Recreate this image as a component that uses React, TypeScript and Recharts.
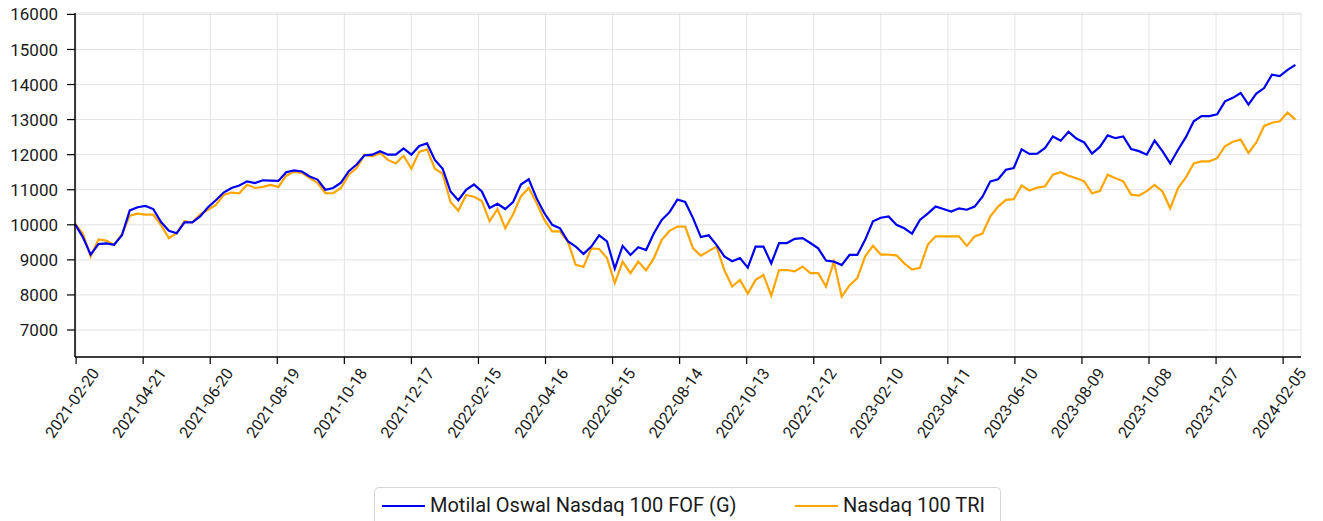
import { LineChart, Line, XAxis, YAxis, CartesianGrid } from 'recharts';

// weekly samples, first point on START
const START = '2021-02-19';
const STEP_DAYS = 7;
const END_DAY = 1097;

const TICK_LABELS = [
    '2021-02-20', '2021-04-21', '2021-06-20', '2021-08-19', '2021-10-18', '2021-12-17',
    '2022-02-15', '2022-04-16', '2022-06-15', '2022-08-14', '2022-10-13', '2022-12-12',
    '2023-02-10', '2023-04-11', '2023-06-10', '2023-08-09', '2023-10-08', '2023-12-07',
    '2024-02-05',
];

const Y_TICKS = [7000, 8000, 9000, 10000, 11000, 12000, 13000, 14000, 15000, 16000];

const FOF = [
    10020, 9650, 9150, 9450, 9470, 9430, 9700, 10410, 10500, 10540,
    10450, 10080, 9830, 9760, 10070, 10070, 10240, 10500, 10700, 10920,
    11050, 11120, 11240, 11190, 11270, 11260, 11250, 11500, 11550, 11520,
    11380, 11290, 11000, 11050, 11200, 11530, 11720, 11980, 12000, 12100,
    12000, 12000, 12180, 12000, 12250, 12320, 11850, 11600, 10950, 10700,
    11000, 11150, 10950, 10480, 10600, 10450, 10650, 11150, 11300, 10760,
    10330, 10000, 9900, 9530, 9380, 9170, 9380, 9700, 9530, 8750,
    9400, 9140, 9360, 9280, 9760, 10140, 10360, 10720, 10650, 10190,
    9650, 9700, 9430, 9100, 8960, 9050, 8780, 9380, 9380, 8900,
    9480, 9480, 9600, 9620, 9480, 9330, 8980, 8950, 8850, 9140,
    9140, 9570, 10100, 10200, 10240, 10000, 9900, 9750, 10140, 10320,
    10520, 10450, 10380, 10470, 10430, 10520, 10800, 11240, 11300, 11570,
    11620, 12150, 12020, 12030, 12190, 12520, 12400, 12650, 12460, 12350,
    12030, 12220, 12550, 12470, 12520, 12160, 12100, 12000, 12400, 12100,
    11750, 12140, 12500, 12950, 13100, 13100, 13150, 13520, 13620, 13760,
    13430, 13740, 13900, 14280, 14240, 14420, 14560,
];

const TRI = [
    10030, 9750, 9100, 9580, 9550, 9430, 9730, 10260, 10320, 10290,
    10290, 9990, 9620, 9760, 10100, 10070, 10300, 10430, 10570, 10850,
    10920, 10900, 11140, 11050, 11080, 11140, 11080, 11400, 11510, 11480,
    11330, 11200, 10900, 10900, 11050, 11430, 11620, 12000, 11950, 12050,
    11850, 11750, 11970, 11600, 12080, 12150, 11600, 11450, 10650, 10400,
    10850, 10800, 10680, 10100, 10450, 9900, 10300, 10810, 11050, 10620,
    10140, 9810, 9810, 9520, 8860, 8800, 9330, 9310, 9050, 8340,
    8950, 8620, 8950, 8700, 9050, 9570, 9830, 9950, 9950, 9330,
    9120, 9250, 9380, 8710, 8240, 8430, 8040, 8430, 8570, 7980,
    8710, 8710, 8670, 8810, 8620, 8620, 8240, 8950, 7950, 8270,
    8480, 9100, 9400, 9150, 9150, 9130, 8900, 8720, 8770, 9430,
    9670, 9670, 9670, 9670, 9400, 9670, 9750, 10240, 10520, 10710,
    10730, 11120, 10980, 11060, 11100, 11430, 11500, 11400, 11330, 11240,
    10900, 10960, 11430, 11330, 11240, 10860, 10830, 10960, 11140, 10950,
    10470, 11050, 11350, 11750, 11810, 11810, 11900, 12240, 12370, 12430,
    12050, 12350, 12820, 12910, 12950, 13200, 13000,
];

const dayOf = (s: string) => Math.round((Date.parse(s) - Date.parse(START)) / 86400000);

const data = FOF.map((v, i) => ({ day: i * STEP_DAYS, fof: v, tri: TRI[i] }));
const xTicks = TICK_LABELS.map(dayOf);
const labelFor: Record<number, string> = {};
TICK_LABELS.forEach((l) => { labelFor[dayOf(l)] = l; });

const FONT = 'Roboto, "Noto Sans", sans-serif';

function XTick({ x, y, payload }: any) {
    return (
        <text
            x={0}
            y={0}
            textAnchor="middle"
            dominantBaseline="central"
            fontFamily={FONT}
            fontSize={16}
            fill="#1a1a1a"
            transform={`translate(${x - 4},${y + 37}) rotate(-55)`}
        >
            {labelFor[payload.value]}
        </text>
    );
}

export default function App() {
    return (
        <div style={{ position: 'absolute', left: 0, top: 0, width: 1323, height: 521, background: '#fff', overflow: 'hidden' }}>
            <LineChart width={1323} height={521} data={data} margin={{ top: 13, right: 22, bottom: 64, left: 0 }}>
                <CartesianGrid stroke="#e3e3e3" strokeWidth={1} />
                <XAxis
                    dataKey="day"
                    type="number"
                    domain={[0, END_DAY]}
                    ticks={xTicks}
                    interval={0}
                    height={100}
                    tick={<XTick />}
                    tickSize={7}
                    axisLine={{ stroke: '#000', strokeWidth: 1.5 }}
                    tickLine={{ stroke: '#000', strokeWidth: 1.2 }}
                />
                <YAxis
                    type="number"
                    domain={[6230, 16040]}
                    ticks={Y_TICKS}
                    interval={0}
                    width={75}
                    tickSize={8}
                    tickMargin={9}
                    tick={{ fontFamily: FONT, fontSize: 17, fill: '#1a1a1a' }}
                    axisLine={{ stroke: '#000', strokeWidth: 1.5 }}
                    tickLine={{ stroke: '#000', strokeWidth: 1.2 }}
                />
                <Line dataKey="tri" stroke="#FFA500" strokeWidth={2.2} dot={false} isAnimationActive={false} />
                <Line dataKey="fof" stroke="#0000F0" strokeWidth={2.2} dot={false} isAnimationActive={false} />
            </LineChart>
            <div
                style={{
                    position: 'absolute', left: 374, top: 487, width: 627, height: 44,
                    border: '1.5px solid #d4d4d4', borderRadius: 5, boxSizing: 'border-box',
                    fontFamily: FONT, fontSize: 20, color: '#1a1a1a',
                }}
            >
                <div style={{ position: 'absolute', left: 7, top: 17, width: 43, height: 2, background: '#0000F0' }} />
                <div style={{ position: 'absolute', left: 55, top: 5, whiteSpace: 'nowrap' }}>Motilal Oswal Nasdaq 100 FOF (G)</div>
                <div style={{ position: 'absolute', left: 420, top: 17, width: 43, height: 2, background: '#FFA500' }} />
                <div style={{ position: 'absolute', left: 468, top: 5, whiteSpace: 'nowrap' }}>Nasdaq 100 TRI</div>
            </div>
        </div>
    );
}
